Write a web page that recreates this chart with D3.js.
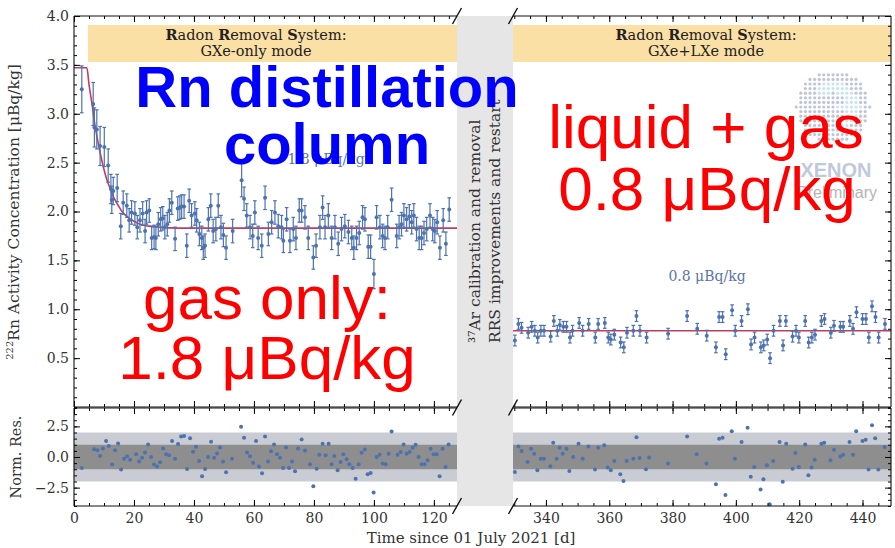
<!DOCTYPE html>
<html>
<head>
<meta charset="utf-8">
<script src="https://cdn.jsdelivr.net/npm/d3@7"></script>
<style>
  body { margin: 0; background: #fff; }
  svg { display: block; }
</style>
</head>
<body>
<div id="chart"></div>
<script>
// GXe-only mode: [day, 222Rn concentration (µBq/kg), error]
const gxeOnlyPoints = [
  [2.6,3.25,0.24],[6.4,3.10,0.22],[6.8,2.86,0.2],[7.6,2.84,0.2],[8.7,2.67,0.2],[10.1,2.66,0.2],
  [11.4,2.47,0.17],[12.3,2.23,0.15],[12.6,2.12,0.14],[13.1,2.21,0.14],[14.4,2.24,0.14],[15.6,1.85,0.13],
  [16.4,2.09,0.12],[17.6,2.06,0.12],[18.4,1.91,0.12],[19.2,1.99,0.12],[20.3,1.98,0.12],[21.1,1.84,0.12],
  [22.0,1.91,0.12],[22.9,1.98,0.12],[23.7,1.80,0.12],[24.2,1.99,0.12],[25.1,2.01,0.12],[25.9,1.73,0.12],
  [26.7,1.74,0.12],[27.3,1.73,0.12],[28.1,1.87,0.12],[28.9,1.92,0.12],[29.6,1.93,0.12],[30.3,1.84,0.12],
  [31.1,1.87,0.12],[31.8,2.01,0.12],[32.6,2.09,0.12],[33.7,1.72,0.12],[34.6,2.03,0.12],[35.3,2.04,0.12],
  [35.9,2.05,0.12],[36.7,2.05,0.12],[37.6,1.65,0.12],[38.4,2.11,0.12],[39.2,1.96,0.12],[40.3,1.98,0.12],
  [40.9,1.91,0.12],[41.8,1.77,0.12],[42.6,1.73,0.12],[43.1,1.63,0.12],[43.7,1.65,0.12],[44.8,1.92,0.12],
  [45.6,2.06,0.12],[46.4,1.80,0.12],[47.3,1.82,0.12],[48.1,2.06,0.12],[49.0,1.84,0.12],[49.8,1.76,0.12],
  [50.7,1.63,0.12],[52.9,1.80,0.12],[55.9,2.32,0.17],[56.7,2.13,0.12],[57.6,1.96,0.12],[58.7,1.84,0.12],
  [59.6,1.75,0.12],[60.3,1.99,0.12],[61.4,1.73,0.12],[62.6,1.65,0.12],[63.7,2.14,0.12],[64.8,1.77,0.12],
  [65.9,1.89,0.12],[67.0,1.99,0.12],[68.1,1.85,0.12],[69.2,1.84,0.12],[69.8,1.70,0.12],[70.9,1.92,0.12],
  [72.0,1.70,0.12],[73.1,1.82,0.12],[74.0,1.73,0.12],[75.1,2.01,0.12],[75.9,2.01,0.12],[77.0,1.94,0.12],
  [78.1,1.73,0.12],[79.8,1.53,0.12],[80.7,1.65,0.12],[82.0,1.84,0.12],[82.9,2.04,0.12],[83.7,1.84,0.12],
  [84.8,1.96,0.12],[85.9,1.73,0.12],[87.0,1.84,0.12],[88.1,1.67,0.12],[89.2,1.82,0.12],[90.3,1.85,0.12],
  [91.5,1.79,0.12],[92.6,1.73,0.12],[93.3,1.63,0.12],[94.2,1.73,0.12],[95.1,1.78,0.12],[96.2,1.94,0.12],
  [97.0,1.92,0.12],[98.1,1.64,0.12],[98.9,1.64,0.12],[100.0,1.36,0.15],[100.9,1.94,0.12],[102.0,1.84,0.12],
  [102.9,1.75,0.12],[103.7,1.73,0.12],[104.6,1.84,0.12],[105.9,2.12,0.12],[107.6,1.75,0.12],[108.4,1.84,0.12],
  [109.2,1.87,0.12],[110.0,1.96,0.12],[110.9,1.92,0.12],[111.8,1.95,0.12],[112.6,1.89,0.12],[113.3,1.96,0.12],
  [114.2,1.82,0.12],[115.1,1.73,0.12],[115.9,1.73,0.12],[116.7,1.78,0.12],[117.6,1.82,0.12],[118.7,1.96,0.12],
  [119.6,1.82,0.12],[120.3,1.80,0.12],[121.1,1.89,0.12],[122.0,1.63,0.12],[123.1,1.91,0.12],[124.0,1.67,0.12],
  [125.1,2.02,0.12]
];
// fit curve
const gxeOnlyFit = [
  [0,3.47],[4.3,3.47],[5,3.30],[6,3.10],[7,2.88],[8,2.71],[9,2.56],[10,2.43],[11,2.32],[12,2.24],
  [13,2.16],[14,2.10],[15,2.05],[16,2.00],[18,1.94],[20,1.90],[22,1.87],[25,1.85],[28,1.84],[35,1.83],[127.7,1.83]
];
const gxeOnlyRes = [
  [2.6,-0.89],[6.7,0.64],[7.8,0.56],[8.7,0.08],[9.6,0.69],[10.7,1.31],[11.6,0.89],[12.7,-0.61],[13.7,0.56],
  [14.7,1.11],[15.7,-1.03],[16.7,-0.14],[17.7,0.06],[18.7,-0.22],[20.7,0.22],[21.7,-0.36],[22.7,-0.06],
  [23.7,0.36],[24.7,1.03],[25.7,0],[26.7,-0.61],[27.7,-0.78],[28.7,-0.42],[29.7,0.69],[30.7,0.22],[31.7,0.14],
  [32.7,1.31],[33.7,-0.14],[34.7,1.06],[35.7,1.67],[36.7,1.72],[37.7,-0.97],[38.7,1.53],[39.7,0.42],[40.7,0.83],
  [41.7,-0.33],[42.7,-1.58],[43.7,-0.97],[44.7,0],[45.7,1.25],[46.7,-0.06],[47.7,0.28],[48.7,0.78],[49.7,-0.36],
  [50.7,-1.25],[52.7,-0.14],[55.7,2.47],[56.7,1.58],[57.7,0.36],[58.7,0.06],[59.7,-0.47],[60.7,1.31],[61.7,-0.78],
  [62.7,-1.33],[63.7,1.67],[64.7,-0.36],[65.7,0.47],[66.7,1.03],[67.7,0.22],[68.7,-0.06],[69.7,-0.89],[70.7,0.78],
  [71.7,-0.89],[72.7,-0.36],[73.7,-1.17],[74.7,0.69],[75.9,1.43],[77,0.54],[78.7,-0.59],[79.8,-2.38],[80.9,-0.95],
  [81.8,0.19],[82.9,1.08],[83.9,0.14],[84.9,1.08],[85.9,-0.59],[86.8,0.08],[87.9,-1.08],[88.9,-0.41],[89.8,0.22],
  [90.9,-0.19],[91.8,-0.59],[92.9,-0.89],[93.9,-1.78],[94.9,-0.59],[95.9,0.35],[97,0.62],[97.9,-1.41],[98.9,-1.3],
  [99.9,-2.89],[100.9,0],[101.9,0.19],[102.9,-0.54],[103.9,-0.59],[104.9,0.27],[105.9,2.08],[107.9,0.19],
  [108.9,0.41],[109.9,1.03],[110.9,0.27],[111.9,0.41],[112.9,0.76],[113.9,1.0],[114.9,0],[115.9,-0.59],
  [116.9,-0.59],[117.9,-0.27],[118.9,0.68],[119.9,0.22],[120.9,0.22],[121.9,-1.57],[122.9,0.68],[123.9,-0.81],
  [124.9,1.03]
];

// GXe+LXe mode
const gxeLxePoints = [
  [330.2,0.68],[331.3,0.85],[332.3,0.81],[334.4,0.76],[335.5,0.82],[336.5,0.78],[337.4,0.71],[338.4,0.78],
  [339.4,0.78],[341.5,0.72],[342.5,0.88],[343.6,0.78],[344.4,0.84],[345.5,0.82],[346.5,0.82],[347.6,0.71],
  [348.4,0.78],[350.5,0.86],[351.6,0.78],[353.5,0.85],[355.6,0.71],[356.5,0.85],[358.6,0.86],[359.7,0.71],
  [360.5,0.69],[361.6,0.74],[363.6,0.66],[364.6,0.61],[365.6,0.76],[367.6,0.78],[368.6,0.93],[369.7,0.78],
  [371.8,0.71],[378.6,0.75],[384.6,0.93],[387.8,0.80],[390.8,0.73],[393.7,0.61],[394.7,0.92],[395.8,0.92],
  [396.8,0.54],[398.8,0.99],[399.8,0.78],[401.8,0.88],[403.8,1.00],[404.8,0.64],[405.9,0.71],[407.9,0.61],
  [408.8,0.63],[409.9,0.69],[410.8,0.50],[411.9,0.78],[413.9,0.88],[414.9,0.63],[415.8,0.88],[417.9,0.72],
  [419.0,0.78],[419.9,0.71],[421.9,0.88],[423.0,0.66],[424.0,0.71],[425.0,0.74],[427.0,0.88],[428.0,0.90],
  [430.0,0.76],[431.0,0.83],[433.0,0.82],[433.9,0.82],[436.0,0.88],[437.0,0.80],[438.1,0.97],[440.0,0.90],
  [441.1,0.90],[442.0,0.71],[443.0,1.03],[444.1,0.92],[445.1,0.71],[447.1,0.85]
];
const gxeLxeErr = 0.055;
const gxeLxeFit = [[329.6,0.78],[449,0.78]];
const gxeLxeRes = [
  [330.2,-1.22],[331.3,0.86],[332.3,0.49],[334.2,-0.41],[335.3,0.68],[336.3,0.27],[337.3,-1.08],[338.4,-0.14],
  [339.4,-0.14],[341.4,-0.76],[342.3,1.16],[343.4,-0.14],[344.3,0.76],[345.3,0.27],[346.5,0.68],[347.4,-1.14],
  [348.6,0],[350.3,1.08],[351.6,-0.14],[353.4,0.86],[355.5,-1.03],[356.5,0.76],[358.4,0.95],[359.5,-0.86],
  [360.5,-1.08],[361.6,-0.32],[363.5,-1.41],[364.5,-1.95],[365.5,-0.32],[367.6,-0.14],[368.6,1.62],[369.6,-0.08],
  [371.6,-1.0],[372.6,-0.05],[378.6,-0.54],[384.6,1.68],[387.6,0.22],[390.7,-0.54],[393.7,-2.22],[394.7,1.49],
  [395.8,1.57],[396.7,-3.11],[398.7,2.11],[399.7,-0.14],[401.8,1.22],[403.7,2.38],[404.7,-1.62],[405.8,-0.81],
  [407.8,-2.65],[408.7,-1.81],[409.8,-0.68],[410.7,-3.86],[411.8,-0.32],[413.8,1.22],[414.8,-2.03],[415.9,1.08],
  [417.9,-0.95],[418.8,0.32],[419.9,-0.81],[421.9,1.03],[422.9,-1.49],[423.9,-0.86],[424.9,-0.22],[427,1.08],
  [427.9,1.16],[429.9,-0.27],[431,0.59],[433,0.05],[433.9,0.19],[435.9,1.22],[437,0.19],[438,2.11],[440,1.3],
  [441,1.41],[441.9,-1.03],[443,2.59],[444,1.54],[445,-1.03],[447,0.81]
];

const leftTicks = [0,20,40,60,80,100,120];
const rightTicks = [340,360,380,400,420,440];
const concTicks = [0.5,1.0,1.5,2.0,2.5,3.0,3.5,4.0];
const resTicks = [-2.5,0,2.5];

const W = 895, H = 548;
const serif = "'DejaVu Serif', serif";
const blue = "#4c72b0";
const fitColor = "#b8284f";

const svg = d3.select("#chart").append("svg").attr("width", W).attr("height", H);

const xL = d3.scaleLinear().domain([0, 127.7]).range([74, 457]);
const xR = d3.scaleLinear().domain([329.6, 449]).range([513, 891]);
const yM = d3.scaleLinear().domain([0, 4]).range([407, 16]);
const yR = d3.scaleLinear().domain([-4, 4]).range([506, 408]);

// header boxes
[[88, 457, "GXe-only mode", 256], [513, 891, "GXe+LXe mode", 706]].forEach(([x0, x1, mode, cx]) => {
  svg.append("rect").attr("x", x0).attr("y", 25).attr("width", x1 - x0).attr("height", 37).attr("fill", "#fbe0a6");
  const t = svg.append("text").attr("x", cx).attr("y", 40).attr("text-anchor", "middle")
    .style("font-family", serif).style("font-size", "14.5px").attr("fill", "#222");
  [["R",1],["adon ",0],["R",1],["emoval ",0],["S",1],["ystem:",0]].forEach(([s,b]) =>
    t.append("tspan").text(s).style("font-weight", b ? "bold" : "normal"));
  svg.append("text").attr("x", cx).attr("y", 56).attr("text-anchor", "middle")
    .style("font-family", serif).style("font-size", "14.5px").attr("fill", "#222").text(mode);
});

// gap band
svg.append("rect").attr("x", 457).attr("y", 16).attr("width", 56).attr("height", 490).attr("fill", "#e6e6e6");
[["³⁷Ar calibration and removal", 480], ["RRS improvements and restart", 500]].forEach(([s, x]) => {
  svg.append("text").attr("transform", `translate(${x},343) rotate(-90)`)
    .style("font-family", serif).style("font-size", "15.5px").attr("fill", "#333").text(s);
});

// residual bands
[[xL, 0, 127.7], [xR, 329.6, 449]].forEach(([x, a, b]) => {
  svg.append("rect").attr("x", x(a)).attr("width", x(b) - x(a))
    .attr("y", yR(2)).attr("height", yR(-2) - yR(2)).attr("fill", "#c9ccd3");
  svg.append("rect").attr("x", x(a)).attr("width", x(b) - x(a))
    .attr("y", yR(1)).attr("height", yR(-1) - yR(1)).attr("fill", "#8e8e8e");
});

// XENON logo (watermark)
const logo = svg.append("g").attr("opacity", 0.85);
for (let i = -8; i <= 8; i++) {
  for (let j = -7; j <= 7; j++) {
    const dx = i * 4.6, dy = j * 4.6;
    const r = Math.hypot(dx, dy);
    if (r > 37) continue;
    const ang = Math.atan2(dy, dx);
    const light = (r > 14 && r < 26 && ang > -2.4 && ang < 1.2) || (Math.abs(dy) < 3 && dx > 0 && dx < 30);
    logo.append("circle").attr("cx", 833 + dx).attr("cy", 107 + dy).attr("r", 1.6)
      .attr("fill", light ? "#bfe0f2" : "#b3bcd2");
  }
}
logo.append("text").attr("x", 836).attr("y", 177).attr("text-anchor", "middle")
  .style("font-family", "'Liberation Sans', Arial, sans-serif").style("font-weight", "bold")
  .style("font-size", "20px").attr("fill", "#b6c0d6").text("XENON");
logo.append("text").attr("x", 837).attr("y", 198).attr("text-anchor", "middle")
  .style("font-family", "'Liberation Sans', Arial, sans-serif")
  .style("font-size", "16px").attr("fill", "#a8a8a8").text("Preliminary");

// small level labels
svg.append("text").attr("x", 326).attr("y", 164).attr("text-anchor", "middle")
  .style("font-family", serif).style("font-size", "14px").attr("fill", "#5a74a8").text("1.8 μBq/kg");
svg.append("text").attr("x", 707).attr("y", 281).attr("text-anchor", "middle")
  .style("font-family", serif).style("font-size", "14px").attr("fill", "#5a74a8").text("0.8 μBq/kg");

// fits
const drawFit = (x, pts) => svg.append("path").datum(pts)
  .attr("d", d3.line().x(d => x(d[0])).y(d => yM(d[1])).curve(d3.curveMonotoneX))
  .attr("fill", "none").attr("stroke", fitColor).attr("stroke-width", 1.6).attr("opacity", 0.9);
drawFit(xL, gxeOnlyFit);
drawFit(xR, gxeLxeFit);

// data with error bars
const drawPoints = (x, pts, errOf) => {
  const g = svg.append("g").attr("stroke", blue).attr("stroke-width", 1.2);
  pts.forEach(d => {
    const e = errOf(d);
    const px = x(d[0]);
    g.append("line").attr("x1", px).attr("x2", px).attr("y1", yM(d[1] - e)).attr("y2", yM(d[1] + e));
    g.append("line").attr("x1", px - 1.8).attr("x2", px + 1.8).attr("y1", yM(d[1] - e)).attr("y2", yM(d[1] - e));
    g.append("line").attr("x1", px - 1.8).attr("x2", px + 1.8).attr("y1", yM(d[1] + e)).attr("y2", yM(d[1] + e));
  });
  svg.append("g").selectAll("circle").data(pts).join("circle")
    .attr("cx", d => x(d[0])).attr("cy", d => yM(d[1])).attr("r", 2).attr("fill", blue);
};
drawPoints(xL, gxeOnlyPoints, d => d[2]);
drawPoints(xR, gxeLxePoints, () => gxeLxeErr);

// residuals
[[xL, gxeOnlyRes], [xR, gxeLxeRes]].forEach(([x, pts]) => {
  svg.append("g").selectAll("circle").data(pts).join("circle")
    .attr("cx", d => x(d[0])).attr("cy", d => yR(d[1])).attr("r", 2).attr("fill", blue);
});

// axes helpers
const noDomain = g => g.select(".domain").remove();
const tickStyle = g => g.selectAll(".tick text").style("font-family", serif).style("font-size", "14px").attr("fill", "#333");
function xAxes(x, major, y0, y1, labels) {
  const minor = d3.range(x.domain()[0], x.domain()[1], 1).filter(v => Math.round(v) % 5 === 0).map(Math.round);
  [[y0, d3.axisTop], [y1, d3.axisBottom]].forEach(([yy, ax], k) => {
    svg.append("g").attr("transform", `translate(0,${yy})`)
      .call(ax(x).tickValues(minor).tickSize(-3).tickFormat("")).call(noDomain);
    svg.append("g").attr("transform", `translate(0,${yy})`)
      .call(ax(x).tickValues(major).tickSize(-6).tickPadding(7)
        .tickFormat(k === 1 && labels ? d3.format("d") : ""))
      .call(noDomain).call(tickStyle);
  });
}
function yAxes(y, major, minorStep, fmt) {
  const [lo, hi] = y.domain();
  const minor = d3.range(Math.round(lo / minorStep), Math.round(hi / minorStep) + 1).map(v => v * minorStep);
  svg.append("g").attr("transform", "translate(74,0)")
    .call(d3.axisLeft(y).tickValues(minor).tickSize(-3).tickFormat("")).call(noDomain);
  svg.append("g").attr("transform", "translate(74,0)")
    .call(d3.axisLeft(y).tickValues(major).tickSize(-6).tickPadding(5).tickFormat(fmt))
    .call(noDomain).call(tickStyle);
  svg.append("g").attr("transform", "translate(891,0)")
    .call(d3.axisRight(y).tickValues(minor).tickSize(-3).tickFormat("")).call(noDomain);
  svg.append("g").attr("transform", "translate(891,0)")
    .call(d3.axisRight(y).tickValues(major).tickSize(-6).tickFormat("")).call(noDomain);
}
xAxes(xL, leftTicks, 16, 407, false);
xAxes(xR, rightTicks, 16, 407, false);
xAxes(xL, leftTicks, 408, 506, true);
xAxes(xR, rightTicks, 408, 506, true);
yAxes(yM, concTicks, 0.1, d3.format(".1f"));
yAxes(yR, resTicks, 0.5, d => d3.format(".1f")(d).replace("-", "−"));

// spines
const spine = svg.append("g").attr("stroke", "#111").attr("stroke-width", 1.1);
[[16, 407], [408, 506]].forEach(([t, b]) => {
  spine.append("line").attr("x1", 74).attr("x2", 74).attr("y1", t).attr("y2", b);
  spine.append("line").attr("x1", 891).attr("x2", 891).attr("y1", t).attr("y2", b);
  [[74, 457], [513, 891]].forEach(([a, c]) => {
    spine.append("line").attr("x1", a).attr("x2", c).attr("y1", t).attr("y2", t);
    spine.append("line").attr("x1", a).attr("x2", c).attr("y1", b).attr("y2", b);
  });
});
// break marks
[16, 407.5, 506].forEach(yy => [457, 513].forEach(xx => {
  spine.append("line").attr("x1", xx - 4.5).attr("x2", xx + 4.5).attr("y1", yy + 8).attr("y2", yy - 8).attr("stroke-width", 1.4);
}));

// axis labels
const yl = svg.append("text").attr("transform", "translate(19,212) rotate(-90)").attr("text-anchor", "middle")
  .style("font-family", serif).style("font-size", "15.5px").attr("fill", "#333");
yl.append("tspan").text("222").style("font-size", "10px").attr("dy", "-6");
yl.append("tspan").text("Rn Activity Concentration [μBq/kg]").attr("dy", "6");
svg.append("text").attr("transform", "translate(21,457) rotate(-90)").attr("text-anchor", "middle")
  .style("font-family", serif).style("font-size", "14.5px").attr("fill", "#333").text("Norm. Res.");
svg.append("text").attr("x", 471).attr("y", 543).attr("text-anchor", "middle")
  .style("font-family", serif).style("font-size", "15px").attr("fill", "#333").text("Time since 01 July 2021 [d]");

// overlay annotations
const sans = "'Liberation Sans', Arial, Helvetica, sans-serif";
[["Rn distillation", 327, 107], ["column", 327, 164]].forEach(([s, x, y]) =>
  svg.append("text").attr("x", x).attr("y", y).attr("text-anchor", "middle")
    .style("font-family", sans).style("font-weight", "bold").style("font-size", "58px")
    .attr("fill", "#0000ff").text(s));
[["gas only:", 267, 319], ["1.8 μBq/kg", 267, 379], ["liquid + gas", 706, 148], ["0.8 μBq/kg", 707, 210]].forEach(([s, x, y]) =>
  svg.append("text").attr("x", x).attr("y", y).attr("text-anchor", "middle")
    .style("font-family", sans).style("font-size", "62px").attr("fill", "#ff0000").text(s));
</script>
</body>
</html>
